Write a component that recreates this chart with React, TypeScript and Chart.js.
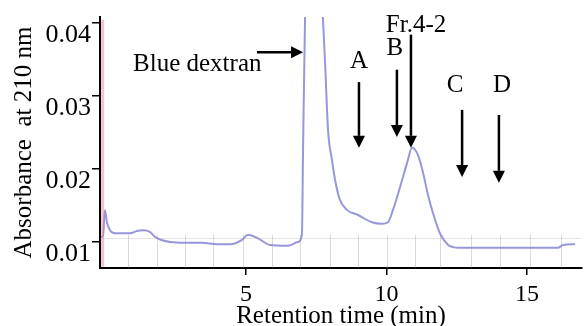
import React, { useEffect, useRef } from 'react';
import { Chart, registerables } from 'chart.js';

Chart.register(...registerables);

// ---- Data ----
const times = [
  -0.16, -0.09, -0.02, 0.05, 0.16, 0.34, 0.87, 1.12, 1.33, 1.58, 1.76, 2.3, 2.83, 3.43, 3.97, 4.43,
  4.86, 5.07, 5.43, 5.85, 6.49, 6.85, 6.99, 7.03, 7.1, 7.42, 7.74, 7.81, 7.92, 8.06, 8.17, 8.34,
  8.59, 8.99, 9.48, 9.84, 10.05, 10.23, 10.48, 10.73, 10.91, 11.12, 11.3, 11.48, 11.65, 11.9, 12.19,
  12.37, 12.54, 16.1, 16.28, 16.71,
];
const absorbance = [
  0.0107, 0.0108, 0.0144, 0.0127, 0.0116, 0.0112, 0.0112, 0.0115, 0.0116, 0.0114, 0.0107, 0.01,
  0.0099, 0.0099, 0.0097, 0.0097, 0.0103, 0.011, 0.0105, 0.0096, 0.0095, 0.01, 0.011, 0.0226,
  0.0404, 0.065, 0.0404, 0.0349, 0.0253, 0.0212, 0.0185, 0.0158, 0.0144, 0.0137, 0.0127, 0.0125,
  0.0127, 0.0144, 0.0175, 0.0208, 0.0229, 0.0219, 0.0195, 0.0164, 0.014, 0.0112, 0.0096, 0.0093,
  0.0092, 0.0092, 0.0096, 0.0097,
];
const injectionTimes = [-0.1, -0.1];
const injectionValues = [0.0066, 0.0404];

const xTicks = [5, 10, 15];
const yTicks = [0.01, 0.02, 0.03, 0.04];
const xRange = [-0.196, 16.957];
const yRange = [0.006438, 0.040822];

// faint recorder grid near the baseline
const gridMinutes = [0.8, 1.85, 2.83, 3.83, 4.9, 5.92, 6.92, 8.0, 8.98, 10.02, 11.01, 11.9, 13.0, 14.05, 15.1, 16.2];
const gridTopValue = 0.011;
const gridHValue = 0.0105;

// annotations
const arrowLabels = ['A', 'B', 'Fr.4-2', 'C', 'D'];
const arrowTimes = [9.02, 10.37, 10.87, 12.69, 14.0];
const arrowStart = [0.0319, 0.0336, 0.0384, 0.0281, 0.0274];
const arrowEnd = [0.0229, 0.0244, 0.0229, 0.0189, 0.0181];
const labelTimes = [9.02, 10.3, 11.05, 12.44, 14.11];
const labelValues = [0.0338, 0.0356, 0.0388, 0.0306, 0.0306];

const dextranLabel = 'Blue dextran';
const dextranLabelTime = 0.98;
const dextranLabelValue = 0.0334;
const dextranArrowTimes = [5.39, 7.03];
const dextranArrowValue = 0.036;

const FONT = "'Liberation Serif', 'Times New Roman', serif";

function drawArrow(ctx: CanvasRenderingContext2D, x1: number, y1: number, x2: number, y2: number) {
  const head = 12;
  const half = 6;
  const ang = Math.atan2(y2 - y1, x2 - x1);
  const bx = x2 - head * Math.cos(ang);
  const by = y2 - head * Math.sin(ang);
  ctx.beginPath();
  ctx.moveTo(x1, y1);
  ctx.lineTo(bx, by);
  ctx.stroke();
  ctx.beginPath();
  ctx.moveTo(x2, y2);
  ctx.lineTo(bx + half * Math.sin(ang), by - half * Math.cos(ang));
  ctx.lineTo(bx - half * Math.sin(ang), by + half * Math.cos(ang));
  ctx.closePath();
  ctx.fill();
}

const bgGrid = {
  id: 'bgGrid',
  beforeDatasetsDraw(chart: any) {
    const { ctx } = chart;
    const x = chart.scales.x;
    const y = chart.scales.y;
    ctx.save();
    ctx.strokeStyle = 'rgba(150,150,150,0.35)';
    ctx.lineWidth = 1;
    const top = y.getPixelForValue(gridTopValue);
    gridMinutes.forEach((m) => {
      const px = Math.round(x.getPixelForValue(m)) + 0.5;
      ctx.beginPath();
      ctx.moveTo(px, top);
      ctx.lineTo(px, y.bottom);
      ctx.stroke();
    });
    const hy = Math.round(y.getPixelForValue(gridHValue)) + 0.5;
    ctx.strokeStyle = 'rgba(170,170,170,0.3)';
    ctx.beginPath();
    ctx.moveTo(x.left, hy);
    ctx.lineTo(x.right, hy);
    ctx.stroke();
    ctx.restore();
  },
};

const annotations = {
  id: 'annotations',
  afterDatasetsDraw(chart: any) {
    const { ctx } = chart;
    const x = chart.scales.x;
    const y = chart.scales.y;
    ctx.save();
    ctx.fillStyle = '#000';
    ctx.strokeStyle = '#000';
    ctx.lineWidth = 2.5;
    ctx.font = `25px ${FONT}`;
    ctx.textBaseline = 'alphabetic';
    arrowLabels.forEach((lab, i) => {
      const ax = x.getPixelForValue(arrowTimes[i]);
      drawArrow(ctx, ax, y.getPixelForValue(arrowStart[i]), ax, y.getPixelForValue(arrowEnd[i]));
      ctx.textAlign = 'center';
      ctx.fillText(lab, x.getPixelForValue(labelTimes[i]), y.getPixelForValue(labelValues[i]));
    });
    ctx.textAlign = 'left';
    ctx.fillText(dextranLabel, x.getPixelForValue(dextranLabelTime), y.getPixelForValue(dextranLabelValue));
    const dy = y.getPixelForValue(dextranArrowValue);
    drawArrow(ctx, x.getPixelForValue(dextranArrowTimes[0]), dy, x.getPixelForValue(dextranArrowTimes[1]), dy);
    ctx.restore();
  },
};

export default function App() {
  const canvasRef = useRef<HTMLCanvasElement | null>(null);

  useEffect(() => {
    document.body.style.margin = '0';
    const canvas = canvasRef.current;
    if (!canvas) return;
    const chart = new Chart(canvas, {
      type: 'line',
      data: {
        datasets: [
          {
            data: injectionTimes.map((t, i) => ({ x: t, y: injectionValues[i] })),
            borderColor: 'rgba(235,130,160,0.5)',
            borderWidth: 3,
            pointRadius: 0,
            fill: false,
          },
          {
            data: times.map((t, i) => ({ x: t, y: absorbance[i] })),
            borderColor: 'rgba(140,140,215,0.9)',
            borderWidth: 2,
            pointRadius: 0,
            cubicInterpolationMode: 'monotone',
            fill: false,
          },
        ],
      },
      options: {
        animation: false,
        responsive: false,
        devicePixelRatio: 1,
        layout: { padding: { top: 17, right: 4, left: 0, bottom: 0 } },
        plugins: { legend: { display: false }, tooltip: { enabled: false } },
        scales: {
          x: {
            type: 'linear',
            min: xRange[0],
            max: xRange[1],
            afterBuildTicks: (s: any) => {
              s.ticks = xTicks.map((v) => ({ value: v }));
            },
            afterFit: (s: any) => {
              s.height = 58;
              s.paddingLeft = 0;
              s.paddingRight = 0;
            },
            border: { display: true, color: '#000', width: 2 },
            grid: { drawOnChartArea: false, drawTicks: true, tickLength: 7, color: '#000', lineWidth: 1.5 },
            ticks: {
              color: '#000',
              font: { family: FONT, size: 24 },
              padding: 5,
              maxRotation: 0,
              autoSkip: false,
              callback: (v: any) => String(v),
            },
            title: {
              display: true,
              text: 'Retention time (min)',
              color: '#000',
              font: { family: FONT, size: 25, lineHeight: 0.76 },
              padding: 0,
            },
          },
          y: {
            type: 'linear',
            min: yRange[0],
            max: yRange[1],
            afterBuildTicks: (s: any) => {
              s.ticks = yTicks.map((v) => ({ value: v }));
            },
            afterFit: (s: any) => {
              s.width = 100;
              s.paddingTop = 0;
              s.paddingBottom = 0;
            },
            border: { display: true, color: '#000', width: 2 },
            grid: { drawOnChartArea: false, drawTicks: true, tickLength: 8, color: '#000', lineWidth: 1.5 },
            ticks: {
              color: '#000',
              font: { family: FONT, size: 26 },
              padding: 1,
              labelOffset: 12,
              callback: (v: any) => Number(v).toFixed(2),
            },
            title: {
              display: true,
              text: 'Absorbance  at 210 nm',
              color: '#000',
              font: { family: FONT, size: 25 },
              padding: { top: 9, bottom: 0 },
            },
          },
        },
      },
      plugins: [bgGrid, annotations],
    } as any);
    return () => chart.destroy();
  }, []);

  return (
    <div style={{ width: 586, height: 326 }}>
      <canvas ref={canvasRef} width={586} height={326} style={{ display: 'block' }} />
    </div>
  );
}
